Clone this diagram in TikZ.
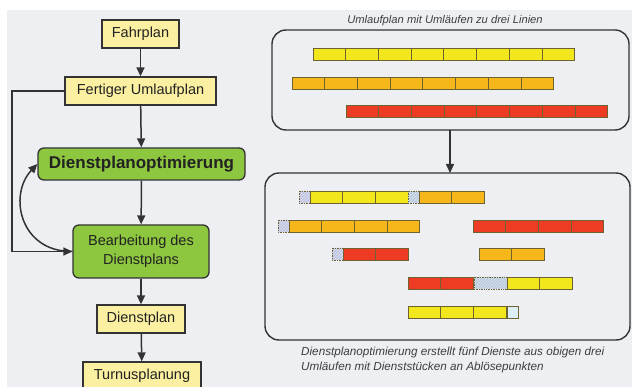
\documentclass[tikz,border=0pt]{standalone}
\usepackage{fontspec}
\setmainfont{Liberation Sans}
\usetikzlibrary{arrows.meta,patterns}
\definecolor{bgc}{HTML}{EDEFF2}
\definecolor{ybox}{HTML}{FBEFA2}
\definecolor{gbox}{HTML}{8DC63F}
\definecolor{bdr}{HTML}{333333}
\definecolor{sy}{HTML}{F2E71C}
\definecolor{so}{HTML}{F6B71A}
\definecolor{sr}{HTML}{EE3B24}
\definecolor{sg}{HTML}{BFC5E2}
\definecolor{sh}{HTML}{B8CADD}
\definecolor{sb}{HTML}{DCEEF6}
\definecolor{sl}{HTML}{6E6230}
\definecolor{txt}{HTML}{222222}
\definecolor{cap}{HTML}{3E3E3E}
\newcommand{\segrow}[4]{\foreach \k in {1,...,#3}{\draw[segline,fill=#4] ({#1+(\k-1)*32.7},#2) rectangle ++(32.7,12);}}
\newcommand{\hatchseg}[4]{\fill[#4] (#1,#2) rectangle ++(#3,12);
  \fill[pattern=north east lines,pattern color=white!50!#4] (#1,#2) rectangle ++(#3,12);
  \draw[segline,densely dotted] (#1,#2) rectangle ++(#3,12);}
\begin{document}
\begin{tikzpicture}[x=1pt,y=-1pt,
  segline/.style={draw=sl,line width=0.7pt},
  flowbox/.style={draw=bdr,line width=1.3pt,inner sep=0pt,text=txt,font=\fontsize{14.5}{19}\selectfont,align=center},
  ynode/.style={flowbox,fill=ybox},
  gnode/.style={flowbox,fill=gbox,rounded corners=6pt},
  arr/.style={draw=bdr,line width=1.5pt,-{Triangle[length=9pt,width=8pt]}},
  panel/.style={draw=bdr,line width=1.4pt,rounded corners=14pt}]
\clip (0,0) rectangle (632,387);
\useasboundingbox (0,0) rectangle (632,387);
\fill[white] (0,0) rectangle (632,387);
\fill[bgc] (7,10) rectangle (632,387);
% left flow
\node[ynode,minimum width=77,minimum height=28] (fp) at (140.5,34) {Fahrplan};
\node[ynode,minimum width=151,minimum height=28] (fu) at (140.5,91) {Fertiger Umlaufplan};
\node[gnode,minimum width=207,minimum height=32,font=\bfseries\fontsize{17}{20}\selectfont] (do) at (141.5,164) {Dienstplanoptimierung};
\node[gnode,minimum width=136,minimum height=53] (bd) at (141,251.5) {Bearbeitung des\\Dienstplans};
\node[ynode,minimum width=88,minimum height=28] (dp) at (141,319) {Dienstplan};
\node[ynode,minimum width=118,minimum height=28] (tp) at (142,376) {Turnusplanung};
\draw[arr] (fp) -- (fu);
\draw[arr] (fu) -- (do);
\draw[arr] (do) -- (bd);
\draw[arr] (bd) -- (dp);
\draw[arr] (dp) -- (tp);
\draw[arr] (fu.west) -- (12,91) |- (bd.west);
\draw[arr] (bd.west) .. controls (20,252) and (8,195) .. (do.west);
% right panels
\node[font=\itshape\fontsize{11.2}{13}\selectfont,text=cap,inner sep=0pt] (t1) at (445,21) {Umlaufplan mit Umläufen zu drei Linien};
\draw[panel] (272,30) rectangle (629,130);
\coordinate (p1b) at (450,130);
\coordinate (p2t) at (450,173);
\draw[arr] (p1b) -- (p2t);
\draw[panel] (265,173) rectangle (630,340);
% top bars
\segrow{313}{48}{8}{sy}
\segrow{292}{77}{8}{so}
\segrow{346}{105}{8}{sr}
% bottom bars
\hatchseg{299}{191}{11}{sg}
\segrow{310}{191}{3}{sy}
\hatchseg{408}{191}{11}{sh}
\segrow{419}{191}{2}{so}
\hatchseg{278}{220}{11}{sg}
\segrow{289}{220}{4}{so}
\segrow{473}{220}{4}{sr}
\hatchseg{332}{248}{11}{sg}
\segrow{343}{248}{2}{sr}
\segrow{479}{248}{2}{so}
\segrow{408}{277}{2}{sr}
\hatchseg{474}{277}{33}{sh}
\segrow{507}{277}{2}{sy}
\segrow{408}{306}{3}{sy}
\draw[segline,fill=sb] (507,306) rectangle ++(11,12);
\node[font=\itshape\fontsize{11.7}{15}\selectfont,text=cap,inner sep=0pt,anchor=west,align=left] (c2) at (301,359.5) {Dienstplanoptimierung erstellt fünf Dienste aus obigen drei\\Umläufen mit Dienststücken an Ablösepunkten};
\end{tikzpicture}
\end{document}
